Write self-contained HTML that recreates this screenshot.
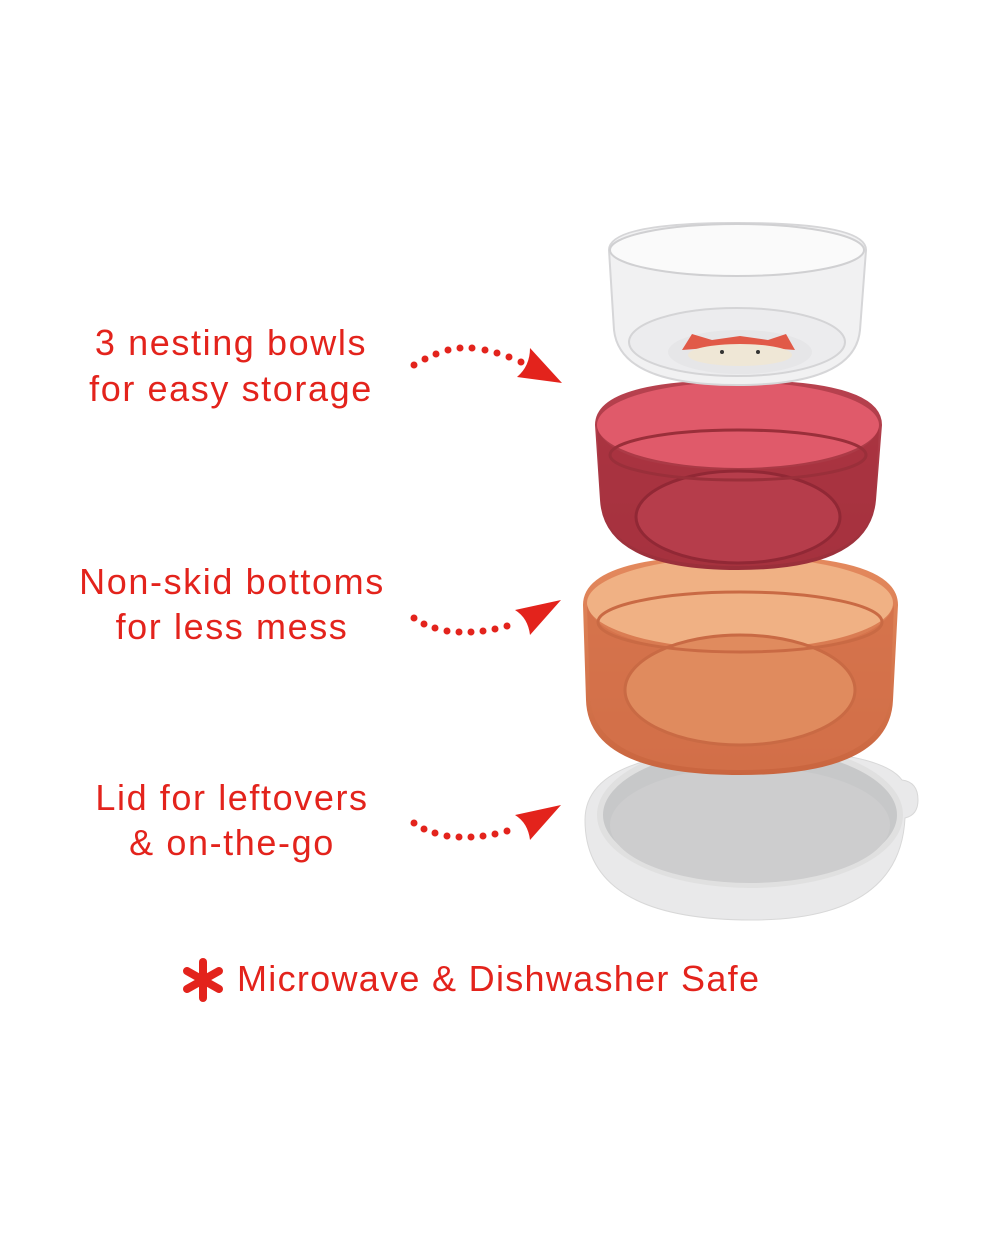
<!DOCTYPE html>
<html><head><meta charset="utf-8"><style>
html,body{margin:0;padding:0;background:#fff;}
body{width:1000px;height:1250px;position:relative;overflow:hidden;font-family:"Liberation Sans",sans-serif;}
.t{position:absolute;color:#e3231c;font-size:36px;text-align:center;width:400px;line-height:46px;letter-spacing:1.6px}
</style></head><body>
<div class="t" style="left:31px;top:320px">3 nesting bowls<br>for easy storage</div>
<div class="t" style="left:32px;top:559px;line-height:45px">Non-skid bottoms<br>for less mess</div>
<div class="t" style="left:32px;top:775px;line-height:45px">Lid for leftovers<br>&amp; on-the-go</div>
<div class="t" style="left:237px;top:956px;width:600px;text-align:left;letter-spacing:1.3px">Microwave &amp; Dishwasher Safe</div>
<svg width="1000" height="1250" style="position:absolute;left:0;top:0">
<defs>
<linearGradient id="rg" x1="0" y1="0" x2="0" y2="1"><stop offset="0" stop-color="#b8424f"/><stop offset="1" stop-color="#9a2f3a"/></linearGradient>
<linearGradient id="og" x1="0" y1="0" x2="0" y2="1"><stop offset="0" stop-color="#e48a5e"/><stop offset="1" stop-color="#c9653f"/></linearGradient>
</defs>
<g stroke="#e3231c" stroke-width="8" stroke-linecap="round">
<line x1="203" y1="962" x2="203" y2="998"/><line x1="187" y1="971" x2="219" y2="989"/><line x1="187" y1="989" x2="219" y2="971"/></g>
<g fill="#e3231c">
<g>
<circle cx="414" cy="365" r="3.5"/><circle cx="425" cy="359" r="3.5"/><circle cx="436" cy="354" r="3.5"/><circle cx="448" cy="350" r="3.5"/><circle cx="460" cy="348" r="3.5"/><circle cx="472" cy="348" r="3.5"/><circle cx="485" cy="350" r="3.5"/><circle cx="497" cy="353" r="3.5"/><circle cx="509" cy="357" r="3.5"/><circle cx="521" cy="362" r="3.5"/>
<path d="M530 348 L562 383 L517 377 Q530 366 530 348Z"/></g>
<g>
<circle cx="414" cy="618" r="3.5"/><circle cx="424" cy="624" r="3.5"/><circle cx="435" cy="628" r="3.5"/><circle cx="447" cy="631" r="3.5"/><circle cx="459" cy="632" r="3.5"/><circle cx="471" cy="632" r="3.5"/><circle cx="483" cy="631" r="3.5"/><circle cx="495" cy="629" r="3.5"/><circle cx="507" cy="626" r="3.5"/>
<path d="M515 610 L561 600 L530 635 Q528 618 515 610Z"/></g>
<g>
<circle cx="414" cy="823" r="3.5"/><circle cx="424" cy="829" r="3.5"/><circle cx="435" cy="833" r="3.5"/><circle cx="447" cy="836" r="3.5"/><circle cx="459" cy="837" r="3.5"/><circle cx="471" cy="837" r="3.5"/><circle cx="483" cy="836" r="3.5"/><circle cx="495" cy="834" r="3.5"/><circle cx="507" cy="831" r="3.5"/>
<path d="M515 815 L561 805 L530 840 Q528 823 515 815Z"/></g>
</g>
<path d="M585 820 Q585 750 752 750 Q880 750 902 780 Q918 782 918 800 Q918 815 905 818 Q900 920 752 920 Q585 920 585 820Z" fill="#e9e9ea" stroke="#d8d8d8"/>
<ellipse cx="750" cy="815" rx="150" ry="70" fill="#c7c8c9" stroke="#e0e0e0" stroke-width="6"/>
<ellipse cx="750" cy="825" rx="140" ry="58" fill="#cdcdce"/>
<path d="M583 605 Q583 555 740 555 Q898 555 898 605 L893 700 Q890 775 740 775 Q588 775 586 700Z" fill="url(#og)"/>
<ellipse cx="740" cy="603" rx="153" ry="46" fill="#f0b184"/>
<path d="M587 605 Q600 650 740 652 Q880 650 894 605 L890 700 Q880 770 740 770 Q598 770 590 700Z" fill="#d4714a" opacity="0.85"/>
<ellipse cx="740" cy="690" rx="115" ry="55" fill="#e08b5e" stroke="#c96a44" stroke-width="3"/>
<ellipse cx="740" cy="622" rx="142" ry="30" fill="none" stroke="#c96a44" stroke-width="3"/>
<path d="M595 425 Q595 380 738 380 Q882 380 882 425 L876 500 Q870 570 738 570 Q604 570 600 500Z" fill="url(#rg)"/>
<ellipse cx="738" cy="425" rx="141" ry="43" fill="#e05a6a"/>
<path d="M597 428 Q610 468 738 470 Q866 468 879 428 L875 500 Q868 566 738 566 Q606 566 601 500Z" fill="#a8323f" opacity="0.85"/>
<ellipse cx="738" cy="517" rx="102" ry="46" fill="#b63d4b" stroke="#912835" stroke-width="3"/>
<ellipse cx="738" cy="455" rx="128" ry="25" fill="none" stroke="#9a2f3a" stroke-width="3"/>
<path d="M609 250 Q609 223 737 223 Q866 223 866 250 L860 330 Q855 385 737 385 Q620 385 614 330Z" fill="#f1f1f2" stroke="#d6d6d8" stroke-width="2"/>
<ellipse cx="737" cy="250" rx="127" ry="26" fill="#fafafa" stroke="#d0d0d2" stroke-width="2"/>
<ellipse cx="737" cy="342" rx="108" ry="34" fill="#ececee" stroke="#d4d4d6" stroke-width="2"/>
<ellipse cx="740" cy="352" rx="72" ry="22" fill="#e6e6e8"/>
<path d="M682 350 L692 334 L712 340 L740 336 L768 340 L786 334 L795 350 Q740 345 682 350Z" fill="#e15a48"/>
<ellipse cx="740" cy="355" rx="52" ry="11" fill="#efe7d6"/>
<circle cx="722" cy="352" r="2" fill="#333"/><circle cx="758" cy="352" r="2" fill="#333"/>
</svg>
</body></html>
